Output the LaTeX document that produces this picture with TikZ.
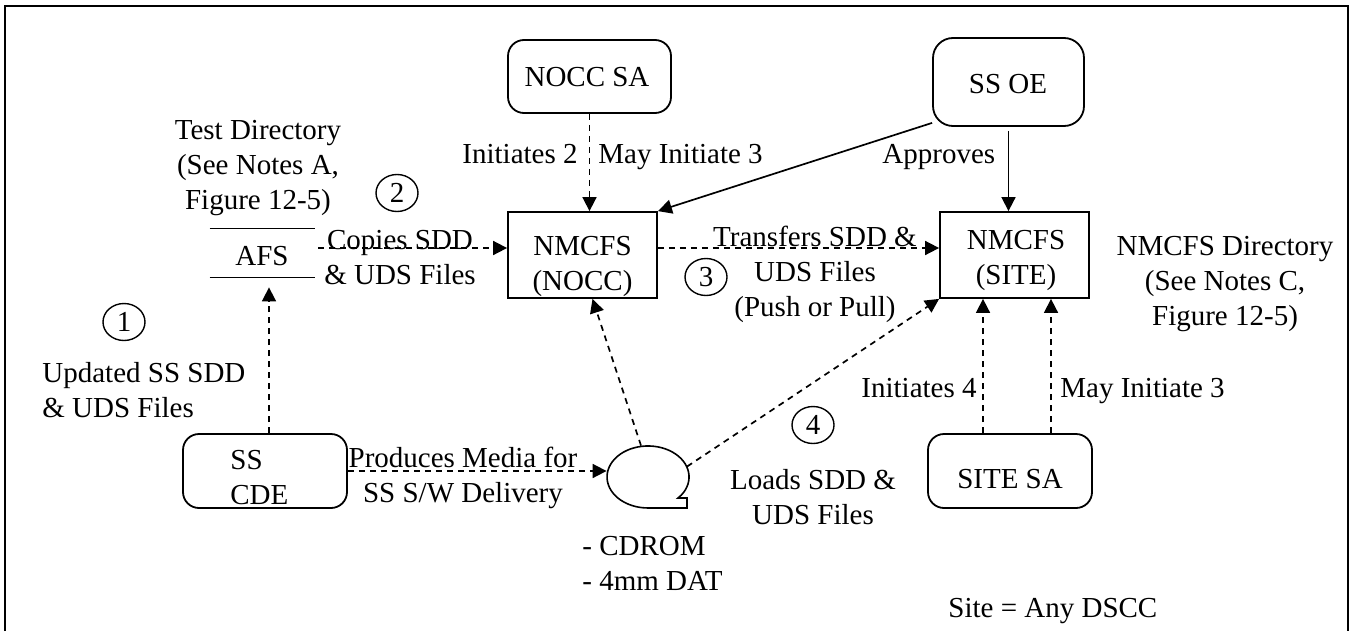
\documentclass[tikz,border=0pt]{standalone}
\usepackage{fontspec}
\setmainfont{Liberation Serif}
\usetikzlibrary{arrows.meta,shapes.geometric}

\begin{document}
\begin{tikzpicture}[x=0.5pt,y=-0.5pt,
  every node/.style={inner sep=0pt, font=\fontsize{14.5pt}{17.5pt}\selectfont},
  rbox/.style={draw, line width=0.9pt, rounded corners=8pt},
  sbox/.style={draw, line width=0.9pt},
  num/.style={ellipse, draw, line width=0.7pt, minimum width=21pt, minimum height=18.5pt},
  darr/.style={line width=0.85pt, dash pattern=on 3pt off 2.5pt, -{Triangle[length=7pt,width=7pt]}},
  sarr/.style={line width=0.85pt, -{Triangle[length=7pt,width=7pt]}}]

\useasboundingbox (0,0) rectangle (1352,631);
% outer frame (open at the bottom)
\draw[line width=1pt] (5,631) -- (5,6) -- (1348,6) -- (1348,631);

% boxes
\node[rbox, minimum width=81.5pt, minimum height=36.5pt] (noccsa) at (589.5,76.5) {};
\node[rbox, rounded corners=10pt, minimum width=75.5pt, minimum height=44pt] (ssoe) at (1008.5,82) {};
\node[sbox, minimum width=74.5pt, minimum height=43pt] (nocc) at (582.5,255) {};
\node[sbox, minimum width=74.5pt, minimum height=43pt] (site) at (1014.5,255) {};
\node[rbox, minimum width=82pt, minimum height=37pt] (sitesa) at (1010,471) {};
\node[rbox, minimum width=82pt, minimum height=37pt] (cde) at (265,471) {};

% AFS data store: two horizontal rules
\node[minimum width=52.5pt, minimum height=24pt] (afs) at (262.5,253) {};
\draw[line width=0.75pt] (afs.north west) -- (afs.north east) (afs.south west) -- (afs.south east);

% removable media symbol
\node[ellipse, minimum width=41pt, minimum height=31pt] (cdrom) at (648,477) {};
\draw[line width=0.8pt] (681.2,495.2) arc[start angle=36, end angle=-270, x radius=41, y radius=31]
  -- (687,508) -- (687,498) -- (678,498) -- cycle;

% box texts
\node[anchor=base] (noccsat) at (587,87) {NOCC SA};
\node[anchor=base] (ssoet) at (1008,93) {SS OE};
\node[align=center] (nocct) at (582.5,266) {NMCFS\\(NOCC)};
\node[align=center] (sitet) at (1016,260.5) {NMCFS\\(SITE)};
\node[anchor=base] (sitesat) at (1010,488) {SITE SA};
\node[align=left, anchor=west] (cdet) at (230,477.5) {SS\\CDE};
\node (afst) at (262,256.5) {AFS};

% step numbers
\node[num] (n1) at (124,322) {1};
\node[num] (n2) at (397,193) {2};
\node[num] (n3) at (706,277) {3};
\node[num] (n4) at (813,425) {4};

% connectors
\draw[darr] ([xshift=2pt]cde.north) -- ([xshift=2pt,yshift=-5pt]cde.north |- afs.south);
\draw[darr] ([xshift=1.5pt,yshift=2.5pt]afs.east) -- ([yshift=2.5pt]afs.east -| nocc.west);
\draw[darr] (noccsa.south) -- (noccsa.south |- nocc.north);
\draw[sarr] ([yshift=2pt]ssoe.south west) -- (nocc.north east);
\draw[sarr] ([yshift=-2pt]ssoe.south) -- (ssoe.south |- site.north);
\draw[darr] ([yshift=3.5pt]nocc.east) -- ([yshift=3.5pt]nocc.east -| site.west);
\draw[darr] ([xshift=-13.5pt]sitesa.north) -- ([xshift=-13.5pt]sitesa.north |- site.south);
\draw[darr] ([xshift=20.5pt]sitesa.north) -- ([xshift=20.5pt]sitesa.north |- site.south);
\draw[darr] (cde.east) -- (cde.east -| cdrom.west);
\draw[darr] ([xshift=-3.5pt]cdrom.north) -- ([xshift=5pt]nocc.south);
\draw[darr] (cdrom.15) -- (site.south west);

% labels
\node[align=center] (testdir) at (258,168.5) {Test Directory\\(See Notes A,\\Figure 12-5)};
\node[align=center] (copies) at (400,257.5) {Copies SDD\\\& UDS Files};
\node[anchor=base east] (init2) at (578,163) {Initiates 2};
\node[anchor=base west] (may3a) at (598,163) {May Initiate 3};
\node[anchor=base west] (approves) at (882,163) {Approves};
\node[align=center] (transfers) at (815,274.5) {Transfers SDD \&\\UDS Files\\(Push or Pull)};
\node[align=center] (nmdir) at (1225,284.5) {NMCFS Directory\\(See Notes C,\\Figure 12-5)};
\node[align=left, anchor=west] (updated) at (42,390) {Updated SS SDD\\\& UDS Files};
\node[align=center] (produces) at (463,478) {Produces Media for\\SS S/W Delivery};
\node[anchor=base east] (init4) at (977,397) {Initiates 4};
\node[anchor=base west] (may3b) at (1060,397) {May Initiate 3};
\node[align=center] (loads) at (813,497) {Loads SDD \&\\UDS Files};
\node[align=left, anchor=west] (media) at (582,563) {- CDROM\\- 4mm DAT};
\node[anchor=base west] (sitenote) at (948,617) {Site = Any DSCC};
\end{tikzpicture}
\end{document}
